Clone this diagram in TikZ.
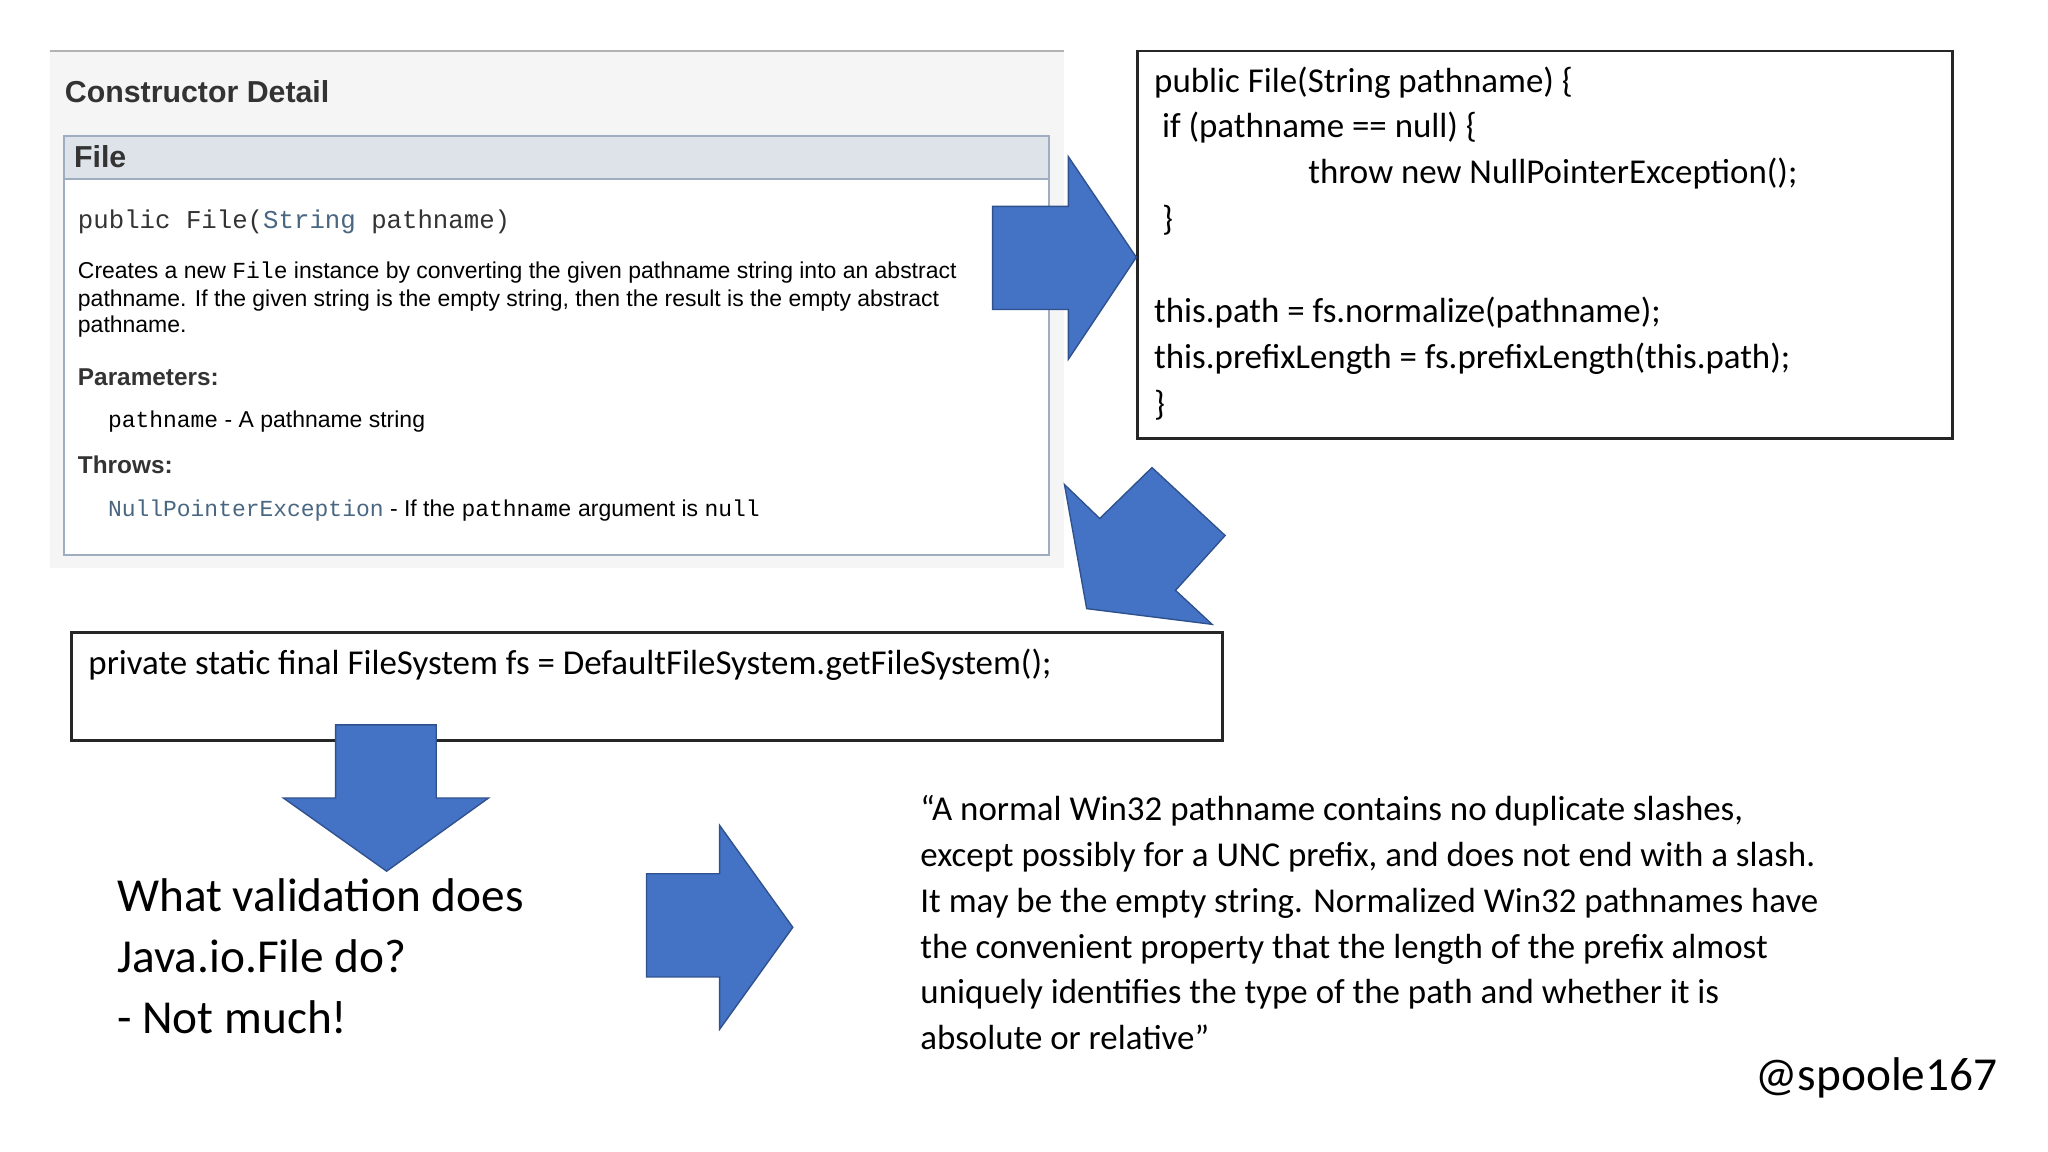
\documentclass[tikz,border=0pt]{standalone}
\usepackage{fontspec}
\setmainfont{Carlito}
\newfontfamily\jd{Liberation Sans}
\newfontfamily\jm{Liberation Mono}
\definecolor{arr}{HTML}{4472C4}
\definecolor{arrb}{HTML}{2F528F}
\definecolor{hdr}{HTML}{DEE3E9}
\definecolor{hdrb}{HTML}{9EADC0}
\definecolor{lnk}{HTML}{4A6782}
\begin{document}
\begin{tikzpicture}[x=0.01cm,y=-0.01cm,
 bigarrow/.style={fill=arr,draw=arrb,line width=0.3pt},
 code/.style={anchor=west,inner sep=0,font=\fontsize{7.6}{9}\selectfont},
 jdoc/.style={anchor=west,inner sep=0,font=\jd\fontsize{5}{6}\selectfont},
 jdocb/.style={anchor=west,inner sep=0,font=\jd\bfseries\fontsize{5.3}{6}\selectfont,text=black!80},
 jmono/.style={anchor=west,inner sep=0,font=\jm\fontsize{5.2}{6}\selectfont}]
\useasboundingbox (0,0) rectangle (1568,882);
% javadoc panel
\fill[black!4] (38,39) rectangle (815,435);
\draw[black!30,line width=0.6pt] (38,39) -- (815,39);
\node[jdocb,font=\jd\bfseries\fontsize{6.6}{8}\selectfont] (cd) at (49,70) {Constructor Detail};
\fill[white] (49,104) rectangle (803,425);
\fill[hdr] (49,104) rectangle (803,137);
\draw[hdrb,line width=0.5pt] (49,104) rectangle (803,425) (49,137) -- (803,137);
\node[jdocb,font=\jd\bfseries\fontsize{6.6}{8}\selectfont] (fl) at (56,120) {File};
\node[jmono,font=\jm\fontsize{5.6}{7}\selectfont,text=black!80] (sig) at (59,170) {public File(\textcolor{lnk}{String} pathname)};
\node[jdoc] (d1) at (59,209) {Creates a new {\jm File} instance by converting the given pathname string into an abstract};
\node[jdoc] (d2) at (59,230) {pathname. If the given string is the empty string, then the result is the empty abstract};
\node[jdoc] (d3) at (59,250) {pathname.};
\node[jdocb] (pa) at (59,289) {Parameters:};
\node[jdoc] (p1) at (82,323) {{\jm pathname} - A pathname string};
\node[jdocb] (th) at (59,356) {Throws:};
\node[jdoc] (t1) at (82,391) {{\jm\color{lnk}NullPointerException} - If the {\jm pathname} argument is {\jm null}};
% code box
\draw[black!85,line width=0.6pt] (871,39) rectangle (1495,336);
\node[code] (c1) at (883,63) {public File(String pathname) \{};
\node[code] (c2) at (889,98) {if (pathname == null) \{};
\node[code] (c3) at (1001,133) {throw new NullPointerException();};
\node[code] (c4) at (889,169) {\}};
\node[code] (c5) at (883,239) {this.path = fs.normalize(pathname);};
\node[code] (c6) at (883,275) {this.prefixLength = fs.prefixLength(this.path);};
\node[code] (c7) at (883,310) {\}};
% arrows
\draw[bigarrow] (760,158) -- (818,158) -- (818,120) -- (870,197) -- (818,275) -- (818,237) -- (760,237) -- cycle;
\draw[bigarrow] (815,371) -- (842,397) -- (882,358) -- (938,410) -- (900,452) -- (928,478) -- (832,466) -- cycle;
% fs box
\draw[black!85,line width=0.6pt] (55,484) rectangle (936,567);
\node[code] (fs) at (67,509) {private static final FileSystem fs = DefaultFileSystem.getFileSystem();};
\draw[bigarrow] (257,555) -- (334,555) -- (334,611) -- (374,611) -- (296,667) -- (217,611) -- (257,611) -- cycle;
\node[anchor=north west,inner sep=0,align=left,font=\fontsize{10.3}{13.3}\selectfont] (q) at (89,672) {What validation does\\Java.io.File do?\\- Not much!};
\draw[bigarrow] (495,669) -- (551,669) -- (551,632) -- (607,710) -- (551,788) -- (551,748) -- (495,748) -- cycle;
\node[anchor=north west,inner sep=0,align=left,font=\fontsize{7.6}{10}\selectfont] (quote) at (704,608) {“A normal Win32 pathname contains no duplicate slashes,\\except possibly for a UNC prefix, and does not end with a slash.\\It may be the empty string. Normalized Win32 pathnames have\\the convenient property that the length of the prefix almost\\uniquely identifies the type of the path and whether it is\\absolute or relative”};
\node[anchor=east,inner sep=0,font=\fontsize{10.3}{12}\selectfont] (sp) at (1530,825) {@spoole167};
\end{tikzpicture}
\end{document}
